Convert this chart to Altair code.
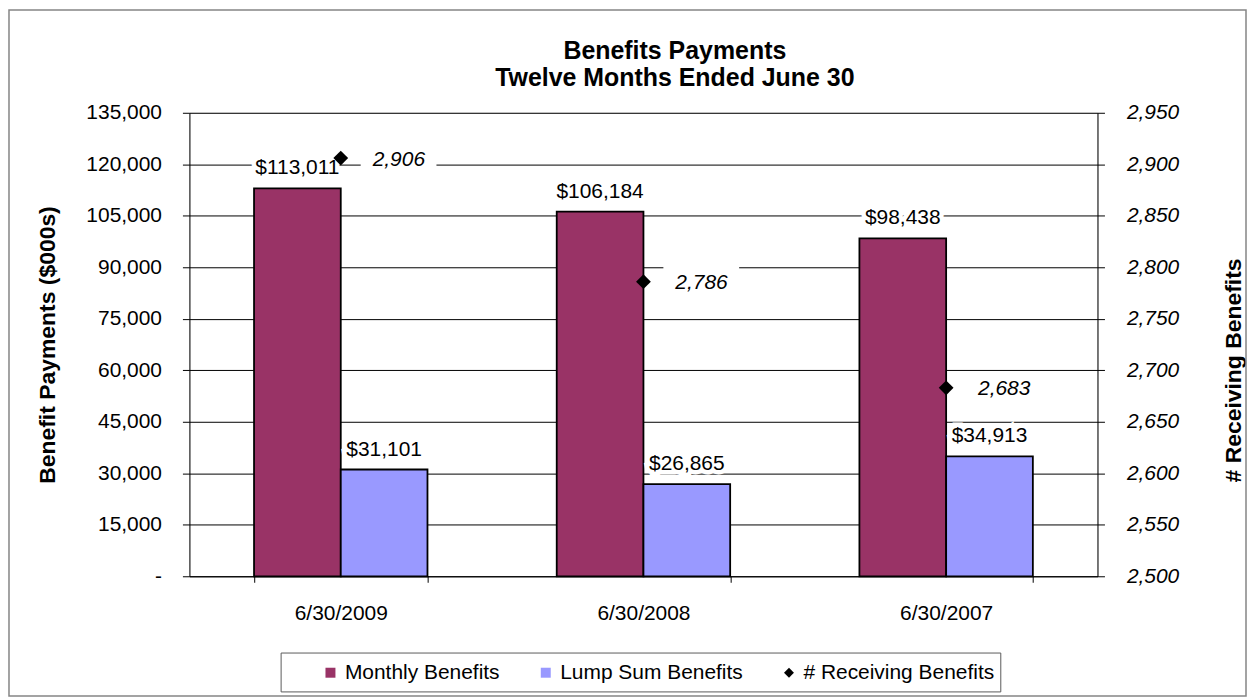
import altair as alt
import pandas as pd

# ---------------- data ----------------
categories = ["6/30/2009", "6/30/2008", "6/30/2007"]
monthly_benefits = [113011, 106184, 98438]
lump_sum_benefits = [31101, 26865, 34913]
receiving_benefits = [2906, 2786, 2683]
series_names = ["Monthly Benefits", "Lump Sum Benefits", "# Receiving Benefits"]
series_colors = ["#993366", "#9999FF", "#000000"]
left_ticks = list(range(0, 135001, 15000))
right_ticks = list(range(2500, 2951, 50))
title_lines = ["Benefits Payments", "Twelve Months Ended June 30"]

FONT = "Liberation Sans"
W, H = 911, 465

bars_df = pd.DataFrame({
    "category": categories * 2,
    "series": [series_names[0]] * 3 + [series_names[1]] * 3,
    "value": monthly_benefits + lump_sum_benefits,
})
recv_df = pd.DataFrame({"category": categories, "receiving": receiving_benefits})
legend_df = pd.DataFrame({"series": series_names})
one_row = pd.DataFrame({"k": [1]})

# ---------------- encodings ----------------
x_enc = alt.X(
    "category:N", sort=categories, title=None,
    scale=alt.Scale(paddingInner=0.427, paddingOuter=0.2135),
    axis=alt.Axis(labelAngle=0, tickBand="extent", tickSize=6, labelPadding=20,
                  labelFontSize=21, labelFont=FONT, labelColor="black",
                  domainColor="black", tickColor="black", grid=False),
)
x_off = alt.XOffset("series:N", sort=series_names[:2],
                    scale=alt.Scale(domain=series_names[:2]))

y_left = alt.Y(
    "value:Q",
    scale=alt.Scale(domain=[0, 135000], nice=False),
    title="Benefit Payments ($000s)",
    axis=alt.Axis(values=left_ticks,
                  labelExpr="datum.value == 0 ? '-' : format(datum.value, ',')",
                  labelFontSize=21, labelFont=FONT, labelColor="black",
                  tickSize=7, tickColor="black", domainColor="black",
                  labelPadding=21, grid=True, gridColor="black", gridWidth=1,
                  titleFont=FONT, titleFontSize=23, titleFontWeight="bold",
                  titleColor="black", titleAngle=270, titleBaseline="middle",
                  titleAlign="center", titleX=-142, titleY=232.5),
)

y_right = alt.Y(
    "receiving:Q",
    scale=alt.Scale(domain=[2500, 2950], nice=False, zero=False),
    title="# Receiving Benefits",
    axis=alt.Axis(orient="right", values=right_ticks,
                  labelExpr="format(datum.value, ',')",
                  labelFontStyle="italic", labelFontSize=21, labelFont=FONT,
                  labelColor="black", tickSize=7, tickColor="black",
                  domainColor="black", labelPadding=22, grid=False,
                  titleFont=FONT, titleFontSize=23, titleFontWeight="bold",
                  titleColor="black", titleAngle=270, titleBaseline="middle",
                  titleAlign="center", titleX=136, titleY=258),
)

color_scale = alt.Scale(domain=series_names, range=series_colors)
shape_scale = alt.Scale(domain=series_names, range=["square", "square", "diamond"])

legend_def = alt.Legend(
    orient="none", legendX=131, legendY=551, direction="horizontal", columns=3,
    title=None, labelFontSize=21, labelFont=FONT, labelColor="black",
    labelLimit=500, symbolSize=100, symbolStrokeColor="black",
    symbolStrokeWidth=1.5, symbolOpacity=1, columnPadding=35, labelOffset=4,
    padding=0,
)

# ---------------- frame, title & legend box ----------------
frame = alt.Chart(one_row).mark_rect(fillOpacity=0, stroke="#858585", strokeWidth=1.5).encode(
    x=alt.value(-181), x2=alt.value(1060), y=alt.value(-103), y2=alt.value(585)
)
legend_box = alt.Chart(one_row).mark_rect(fillOpacity=0, stroke="#5a5a5a", strokeWidth=1).encode(
    x=alt.value(92), x2=alt.value(814), y=alt.value(542), y2=alt.value(581)
)
title1 = alt.Chart(one_row).mark_text(
    text=title_lines[0], font=FONT, fontSize=25, fontWeight="bold",
    align="center", baseline="alphabetic", color="black",
).encode(x=alt.value(487), y=alt.value(-54))
title2 = alt.Chart(one_row).mark_text(
    text=title_lines[1], font=FONT, fontSize=25, fontWeight="bold",
    align="center", baseline="alphabetic", color="black",
).encode(x=alt.value(487), y=alt.value(-27))

# ---------------- left (bars) ----------------
legend_layer = alt.Chart(legend_df).mark_point(
    filled=True, opacity=0, stroke="black", strokeWidth=1.5
).encode(
    color=alt.Color("series:N", scale=color_scale, legend=legend_def),
    shape=alt.Shape("series:N", scale=shape_scale, legend=legend_def),
)

bars = alt.Chart(bars_df).mark_bar(stroke="black", strokeWidth=1.8).encode(
    x=x_enc, xOffset=x_off, y=y_left,
    color=alt.Color("series:N", scale=color_scale, legend=None),
)

bar_text_base = alt.Chart(bars_df).transform_calculate(
    label="'$' + format(datum.value, ',')"
)
bar_halo = bar_text_base.mark_text(
    baseline="alphabetic", dy=-14, fontSize=21, font=FONT,
    color="white", stroke="white", strokeWidth=9, strokeJoin="miter",
).encode(x=x_enc, xOffset=x_off, y=y_left, text="label:N")
bar_labels = bar_text_base.mark_text(
    baseline="alphabetic", dy=-14, fontSize=21, font=FONT, color="black",
).encode(x=x_enc, xOffset=x_off, y=y_left, text="label:N")

left = alt.layer(legend_layer, bars, bar_halo, bar_labels)

# ---------------- right (receiving) ----------------
box_shape = "M-1,-0.421L1,-0.421L1,0.421L-1,0.421Z"
recv_box = alt.Chart(recv_df).mark_point(
    shape=box_shape, filled=True, color="white", opacity=1, size=76 * 76,
    xOffset=58,
).encode(x=x_enc, y=y_right)

recv_labels = alt.Chart(recv_df).transform_calculate(
    label="format(datum.receiving, ',')"
).mark_text(
    align="left", baseline="alphabetic", dx=32, dy=7.5, fontSize=21, font=FONT,
    fontStyle="italic", color="black",
).encode(x=x_enc, y=y_right, text="label:N")
diamonds = alt.Chart(recv_df).mark_point(
    shape="diamond", filled=True, color="black", size=220, opacity=1
).encode(x=x_enc, y=y_right)

right = alt.layer(recv_box, recv_labels, diamonds)

chart = alt.layer(frame, title1, title2, legend_box, left, right).resolve_scale(
    y="independent"
).properties(
    width=W, height=H,
    autosize=alt.AutoSizeParams(type="none"),
    padding={"left": 182, "top": 104, "right": 150, "bottom": 122},
).configure_view(stroke="transparent").configure(background="white")

chart.save("out.html", embed_options={"renderer": "svg", "actions": False})
